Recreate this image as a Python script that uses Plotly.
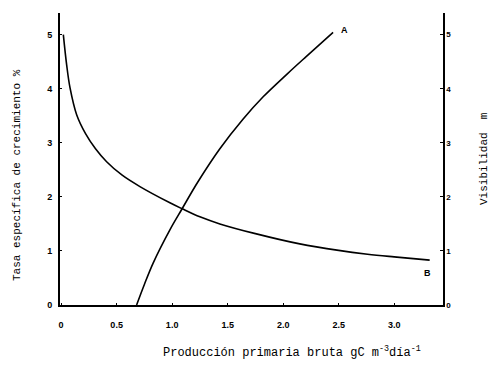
import plotly.graph_objects as go

# Curve A: tasa específica de crecimiento (%) vs producción primaria bruta
growth_x = [0.68, 0.75, 0.83, 0.98, 1.09, 1.23, 1.43, 1.64, 1.82, 2.04, 2.20, 2.45]
growth_y = [0.0, 0.38, 0.78, 1.39, 1.78, 2.27, 2.89, 3.44, 3.85, 4.28, 4.58, 5.04]

# Curve B: visibilidad (m) vs producción primaria bruta
vis_x = [0.02, 0.05, 0.08, 0.14, 0.22, 0.31, 0.41, 0.55, 0.71, 0.98, 1.09, 1.25, 1.43, 1.75, 2.15, 2.50, 2.76, 3.00, 3.32]
vis_y = [5.0, 4.44, 4.02, 3.52, 3.17, 2.89, 2.65, 2.40, 2.19, 1.89, 1.78, 1.63, 1.50, 1.32, 1.13, 1.01, 0.94, 0.89, 0.83]

x_ticks = [0, 0.5, 1.0, 1.5, 2.0, 2.5, 3.0]
x_tick_labels = ["0", "0.5", "1.0", "1.5", "2.0", "2.5", "3.0"]
y_ticks = [0, 1, 2, 3, 4, 5]
y_tick_labels = ["0", "1", "2", "3", "4", "5"]

x_title = "Producción primaria bruta gC m<sup>-3</sup>día<sup>-1</sup>"
y_title = "Tasa específica de crecimiento %"
y2_title = "Visibilidad  m"

mono = "Liberation Mono"

fig = go.Figure()
fig.add_trace(go.Scatter(x=growth_x, y=growth_y, mode="lines", line=dict(color="black", width=1.6, shape="spline", smoothing=1.0), yaxis="y", showlegend=False))
fig.add_trace(go.Scatter(x=vis_x, y=vis_y, mode="lines", line=dict(color="black", width=1.6, shape="spline", smoothing=1.0), yaxis="y2", showlegend=False))

fig.add_annotation(x=growth_x[-1], y=growth_y[-1], text="<b>A</b>", showarrow=False, xanchor="left", yanchor="middle", xshift=6, yshift=2, font=dict(family="Arial", size=9, color="black"))
fig.add_annotation(x=vis_x[-1], y=vis_y[-1], yref="y2", text="<b>B</b>", showarrow=False, xanchor="center", yanchor="top", xshift=-2, yshift=-6, font=dict(family="Arial", size=9, color="black"))

# axis titles
fig.add_annotation(x=0.5, y=0, xref="paper", yref="paper", text=x_title, showarrow=False,
                   xanchor="center", yanchor="middle", xshift=40, yshift=-47,
                   font=dict(family=mono, size=12, color="black"))
fig.add_annotation(x=0, y=0.5, xref="paper", yref="paper", text=y_title, showarrow=False, textangle=-90,
                   xanchor="center", yanchor="middle", xshift=-43, yshift=-16,
                   font=dict(family=mono, size=11, color="black"))
fig.add_annotation(x=1, y=0.5, xref="paper", yref="paper", text=y2_title, showarrow=False, textangle=-90,
                   xanchor="center", yanchor="middle", xshift=41, yshift=0,
                   font=dict(family=mono, size=11, color="black"))

fig.update_layout(
    width=492, height=358,
    margin=dict(l=52, r=57, t=5, b=61),
    paper_bgcolor="white", plot_bgcolor="white",
    xaxis=dict(range=[-0.01, 3.44], tickvals=x_ticks, ticktext=["<b>%s</b>" % t for t in x_tick_labels],
               automargin=False,
               showgrid=False, zeroline=False, showline=True, linecolor="black", linewidth=2,
               ticks="inside", ticklen=2, tickcolor="black", ticklabelstandoff=10,
               tickfont=dict(family="Arial", size=9, color="black")),
    yaxis=dict(range=[0, 5.4], tickvals=y_ticks, ticktext=["<b>%s</b>" % t for t in y_tick_labels],
               automargin=False,
               showgrid=False, zeroline=False, showline=True, linecolor="black", linewidth=2,
               ticks="inside", ticklen=2, tickcolor="black", ticklabelstandoff=4,
               tickfont=dict(family="Arial", size=9, color="black")),
    yaxis2=dict(range=[0, 5.4], overlaying="y", side="right", tickvals=y_ticks,
                ticktext=["<b>%s</b>" % t for t in y_tick_labels],
                automargin=False,
                showgrid=False, zeroline=False, showline=True, linecolor="black", linewidth=1.5,
                ticks="inside", ticklen=3, tickcolor="black",
                tickfont=dict(family="Arial", size=8, color="black")),
)

fig.write_html("out.html")
